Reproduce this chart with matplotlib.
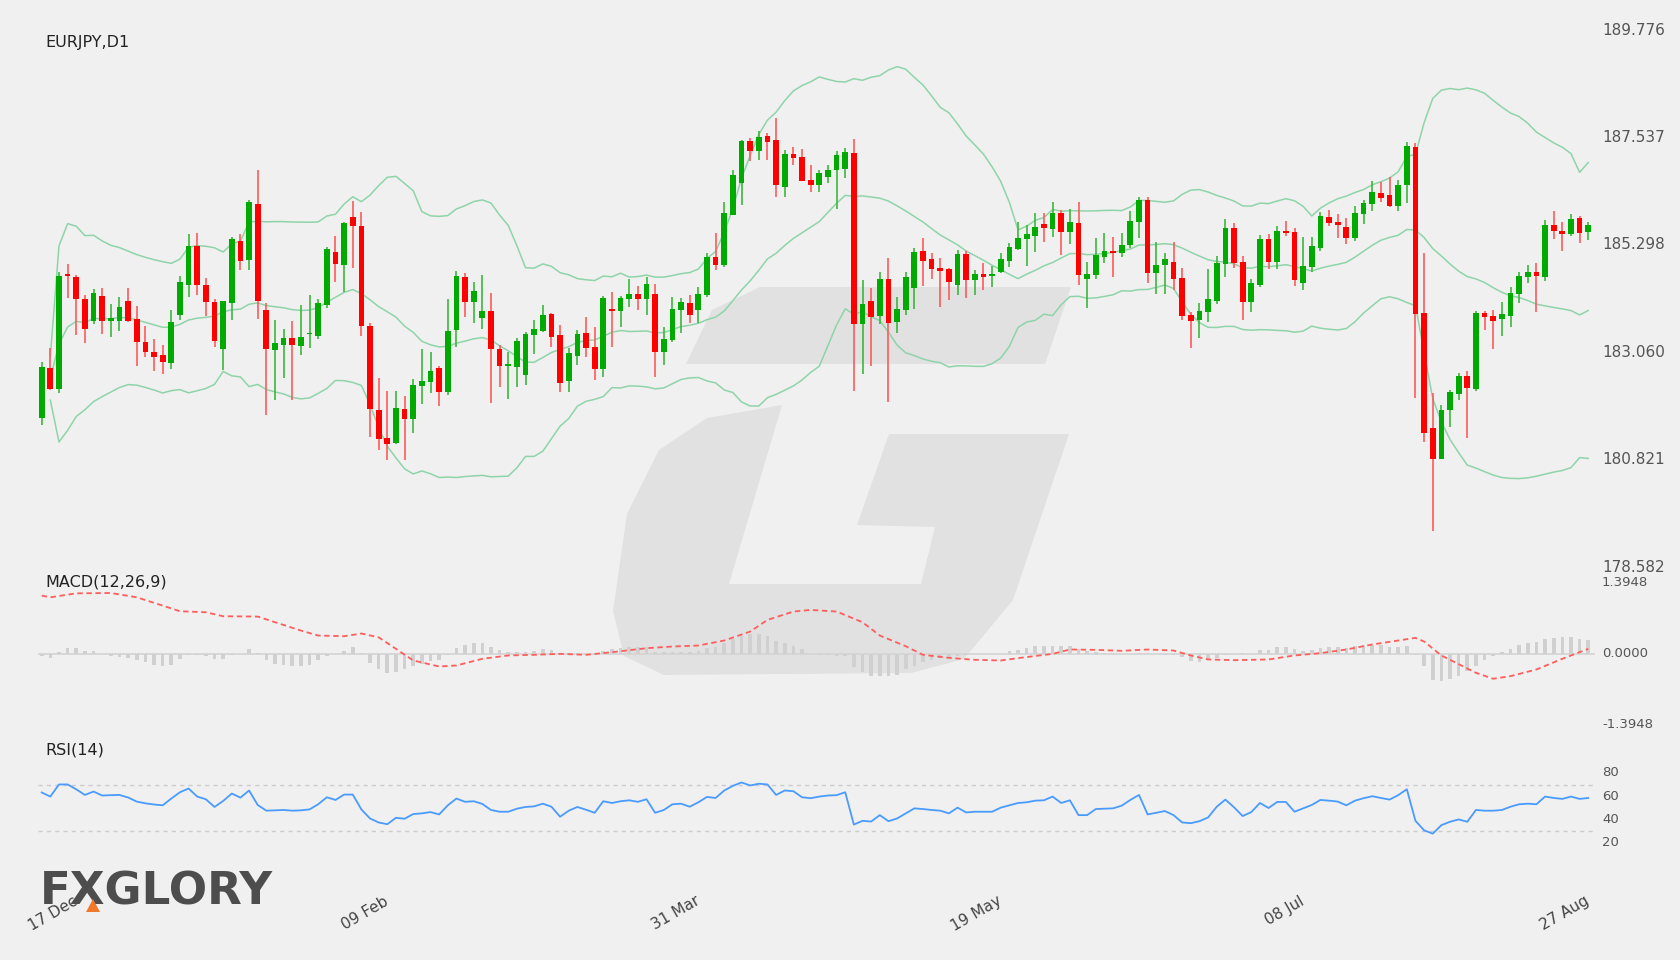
import numpy as np
import pandas as pd
import matplotlib
matplotlib.use("Agg")
import matplotlib.pyplot as plt
from matplotlib.patches import Polygon
from matplotlib.transforms import blended_transform_factory

# ---------------- data ----------------
ohlc = [
(181.68,182.75,182.85,181.54),(182.73,182.29,183.14,182.27),(182.29,184.65,184.73,182.21),(184.69,184.65,184.90,184.19),
(184.62,184.17,184.67,183.42),(184.17,183.54,184.25,183.25),(183.71,184.29,184.37,183.65),(184.23,183.71,184.40,183.44),
(183.71,183.77,184.06,183.37),(183.71,184.00,184.21,183.50),(184.12,183.71,184.40,183.69),(183.75,183.27,184.02,182.77),
(183.27,183.06,183.61,182.96),(183.06,182.96,183.33,182.66),(183.00,182.85,183.21,182.60),(182.83,183.69,183.94,182.71),
(183.83,184.52,184.65,183.73),(184.46,185.27,185.52,184.21),(185.27,184.46,185.54,184.25),(184.46,184.10,184.60,183.81),
(184.10,183.29,184.17,183.17),(183.12,184.12,184.12,182.69),(184.08,185.42,185.46,183.73),(185.38,184.96,185.52,184.77),
(184.98,186.19,186.23,184.77),(186.15,184.12,186.86,183.75),(183.94,183.12,184.08,181.75),(183.10,183.25,183.73,182.06),
(183.21,183.35,183.54,182.52),(183.35,183.21,183.71,182.06),(183.19,183.37,184.04,183.00),(183.43,183.44,184.25,183.14),
(183.40,184.08,184.17,183.33),(184.04,185.21,185.25,183.98),(185.15,184.90,185.48,184.52),(184.87,185.75,185.77,184.31),
(185.88,185.69,186.21,184.81),(185.69,183.61,185.98,183.40),(183.61,181.87,183.67,181.29),(181.85,181.25,182.52,181.02),
(181.27,181.14,182.25,180.81),(181.16,181.89,182.25,181.14),(181.87,181.66,182.14,180.81),(181.66,182.37,182.50,181.37),
(182.35,182.46,183.12,181.98),(182.44,182.66,183.06,182.21),(182.73,182.23,182.77,181.93),(182.23,183.50,184.17,182.16),
(183.52,184.65,184.75,183.17),(184.62,184.10,184.71,183.79),(184.10,184.33,184.52,183.67),(183.77,183.92,184.67,183.54),
(183.92,183.12,184.29,182.00),(183.12,182.77,183.21,182.33),(182.77,182.81,183.06,182.08),(182.75,183.29,183.35,182.33),
(182.58,183.44,183.48,182.37),(183.42,183.54,183.73,183.02),(183.50,183.83,184.04,183.48),(183.85,183.37,183.87,183.17),
(183.42,182.41,183.63,182.23),(182.46,183.04,183.14,182.23),(182.98,183.44,183.52,182.79),(183.46,183.14,183.79,182.96),
(183.17,182.71,183.59,182.48),(182.71,184.19,184.23,182.54),(183.96,183.92,184.31,183.17),(183.92,184.19,184.23,183.59),
(184.17,184.27,184.58,184.00),(184.27,184.17,184.44,183.94),(184.17,184.48,184.62,183.83),(184.27,183.06,184.48,182.54),
(183.06,183.33,183.59,182.79),(183.31,183.96,184.21,183.27),(183.94,184.10,184.19,183.46),(184.08,183.83,184.25,183.67),
(183.94,184.27,184.42,183.67),(184.25,185.04,185.13,184.21),(185.04,184.87,185.54,184.77),(184.87,185.96,186.19,184.83),
(185.92,186.75,186.86,185.92),(186.58,187.46,187.48,186.13),(187.46,187.25,187.52,187.04),(187.25,187.54,187.67,187.06),
(187.56,187.44,187.63,187.06),(187.48,186.54,187.94,186.29),(186.50,187.19,187.27,186.29),(187.19,187.11,187.34,186.96),
(187.13,186.63,187.29,186.63),(186.65,186.54,186.96,186.40),(186.54,186.79,186.86,186.40),(186.71,186.86,186.96,186.58),
(186.86,187.17,187.25,186.04),(186.88,187.23,187.31,186.70),(187.21,183.65,187.50,182.25),(183.65,184.06,184.56,182.60),
(184.12,183.79,184.40,182.77),(183.81,184.58,184.73,183.65),(184.58,183.67,185.02,182.02),(183.69,183.96,184.21,183.46),
(183.94,184.62,184.73,183.83),(184.40,185.15,185.23,183.96),(185.17,184.96,185.44,184.44),(185.00,184.79,185.13,184.58),
(184.81,184.75,185.02,184.00),(184.79,184.52,184.81,184.15),(184.46,185.11,185.19,184.25),(185.11,184.56,185.17,184.19),
(184.56,184.69,184.77,184.25),(184.69,184.62,184.92,184.35),(184.65,184.69,184.85,184.42),(184.73,185.00,185.13,184.71),
(184.96,185.25,185.34,184.83),(185.21,185.44,185.77,185.19),(185.42,185.52,185.71,184.85),(185.48,185.67,185.96,185.15),
(185.73,185.65,185.96,185.36),(185.63,185.96,186.19,185.46),(185.96,185.56,186.02,185.08),(185.56,185.77,186.04,185.31),
(185.75,184.67,186.19,184.46),(184.58,184.69,184.94,183.98),(184.67,185.08,185.44,184.58),(185.04,185.17,185.54,184.92),
(185.17,185.13,185.46,184.62),(185.13,185.29,185.54,185.04),(185.29,185.79,186.00,185.23),(185.77,186.23,186.29,185.44),
(186.23,184.71,186.29,184.50),(184.71,184.87,185.36,184.27),(184.87,185.00,185.13,184.27),(184.94,184.58,185.36,184.35),
(184.60,183.81,184.81,183.73),(183.83,183.71,183.90,183.14),(183.73,183.92,184.08,183.35),(183.90,184.17,184.79,183.69),
(184.12,184.92,185.06,184.06),(184.90,185.65,185.83,184.62),(185.65,184.92,185.75,184.81),(184.94,184.10,185.06,183.73),
(184.10,184.50,184.58,183.90),(184.46,185.42,185.50,184.42),(185.42,184.94,185.52,184.79),(184.94,185.59,185.69,184.79),
(185.59,185.54,185.79,185.48),(185.56,184.56,185.65,184.44),(184.50,184.85,185.46,184.35),(184.83,185.27,185.46,184.73),
(185.23,185.90,185.98,185.17),(185.88,185.75,186.02,185.69),(185.77,185.71,185.94,185.44),(185.67,185.44,185.86,185.31),
(185.44,185.96,186.10,185.38),(185.94,186.17,186.23,185.73),(186.15,186.40,186.63,186.00),(186.38,186.27,186.61,186.19),
(186.33,186.10,186.71,186.08),(186.10,186.54,186.65,186.00),(186.54,187.36,187.44,186.17),(187.34,183.85,187.42,182.10),
(183.87,181.37,185.13,181.19),(181.48,180.83,182.21,179.33),(180.83,181.85,181.96,180.83),(181.85,182.23,182.27,181.50),
(182.19,182.56,182.62,182.06),(182.56,182.31,182.66,181.27),(182.29,183.87,183.92,182.25),(183.87,183.79,183.92,183.52),
(183.81,183.71,183.94,183.12),(183.75,183.85,184.10,183.40),(183.81,184.29,184.42,183.58),(184.27,184.65,184.73,184.08),
(184.62,184.73,184.87,184.50),(184.73,184.65,184.92,183.90),(184.62,185.71,185.81,184.54),(185.71,185.58,186.00,185.42),
(185.58,185.52,185.77,185.17),(185.52,185.83,185.94,185.48),(185.86,185.54,185.90,185.33),(185.56,185.71,185.77,185.40),
]
opens = [r[0] for r in ohlc]
closes = [r[1] for r in ohlc]
highs = [r[2] for r in ohlc]
lows = [r[3] for r in ohlc]

macd_idx = [0,1,4,8,11,14,16,19,21,25,27,30,32,35,37,39,41,43,46,48,51,54,57,60,63,66,70,73,76,79,82,84,87,89,92,95,97,100,102,105,108,111,113,117,119,122,125,128,131,133,135,138,142,145,148,151,154,157,159,160,162,166,168,170,173,176,179]
macd_val = [1.145,1.112,1.19,1.197,1.112,0.948,0.836,0.816,0.737,0.731,0.619,0.454,0.355,0.342,0.395,0.32,0.092,-0.138,-0.257,-0.237,-0.105,-0.039,-0.026,-0.007,-0.026,0.026,0.105,0.138,0.158,0.257,0.434,0.665,0.83,0.862,0.83,0.619,0.355,0.145,-0.026,-0.086,-0.125,-0.138,-0.092,-0.007,0.079,0.072,0.053,0.079,0.059,-0.039,-0.118,-0.132,-0.118,-0.039,0.007,0.079,0.178,0.257,0.309,0.237,-0.039,-0.382,-0.5,-0.448,-0.316,-0.105,0.092]

hist = [-0.05,-0.09,0.03,0.1,0.1,0.05,0.04,0.0,-0.04,-0.06,-0.09,-0.13,-0.17,-0.22,-0.24,-0.22,-0.1,-0.03,-0.03,-0.05,
-0.1,-0.1,-0.03,0.0,0.08,0.01,-0.12,-0.2,-0.23,-0.24,-0.24,-0.22,-0.12,-0.04,0.0,0.05,0.12,0.01,-0.18,-0.3,
-0.38,-0.37,-0.3,-0.25,-0.2,-0.14,-0.12,-0.03,0.1,0.17,0.2,0.2,0.13,0.06,0.03,0.03,0.03,0.04,0.09,0.07,
0.0,0.0,0.0,0.0,0.0,0.05,0.08,0.1,0.12,0.12,0.12,0.03,0.02,0.02,0.02,0.03,0.04,0.1,0.13,0.2,
0.28,0.35,0.38,0.38,0.35,0.25,0.2,0.14,0.08,0.0,-0.03,-0.03,-0.04,-0.05,-0.27,-0.37,-0.45,-0.45,-0.45,-0.42,
-0.3,-0.24,-0.17,-0.12,-0.09,-0.07,-0.05,-0.03,-0.01,0.0,0.0,0.0,0.04,0.07,0.11,0.14,0.14,0.15,0.14,0.14,
0.09,0.04,0.02,0.01,0.01,0.0,-0.01,0.01,0.01,-0.01,-0.02,-0.03,-0.06,-0.14,-0.16,-0.12,-0.09,-0.02,0.0,0.01,
0.0,0.06,0.06,0.12,0.13,0.08,0.05,0.06,0.1,0.12,0.12,0.11,0.14,0.17,0.17,0.16,0.13,0.13,0.14,-0.02,
-0.24,-0.53,-0.55,-0.5,-0.45,-0.34,-0.24,-0.12,-0.05,0.03,0.09,0.16,0.2,0.22,0.29,0.31,0.32,0.32,0.29,0.26]

rsi = [63.3,59.8,70.2,70.2,66.0,61.2,64.1,60.7,61.0,61.2,59.0,55.5,54.0,53.0,52.3,58.1,63.5,66.7,59.8,57.5,
50.9,56.0,62.4,58.9,65.0,52.6,47.7,48.0,48.3,47.7,48.0,48.8,53.2,59.2,56.9,61.5,61.5,48.8,41.0,37.6,
36.1,41.6,40.8,44.8,45.4,46.5,44.5,52.3,58.1,55.3,55.8,53.5,48.3,46.8,46.8,49.4,50.9,51.4,53.7,51.1,
42.5,47.7,50.9,48.5,45.9,55.8,54.3,55.8,56.6,55.3,57.5,45.9,48.3,53.2,53.7,51.1,54.9,59.5,58.6,65.0,
69.0,71.9,69.3,70.8,70.2,61.2,65.0,64.4,59.2,58.4,59.8,60.7,61.0,63.5,35.8,39.0,38.4,43.9,38.7,41.0,
45.4,49.7,49.1,48.3,47.7,45.4,50.3,46.2,46.8,46.8,46.8,50.3,52.3,54.3,54.9,56.3,56.6,59.8,54.3,56.6,
43.9,43.9,49.1,49.4,49.7,52.0,56.9,61.2,44.5,45.9,47.4,43.9,37.6,37.0,38.7,41.9,51.1,57.2,50.6,43.1,
46.5,54.3,50.0,55.2,55.2,46.8,49.7,52.6,56.9,56.3,55.5,52.3,56.3,58.4,60.1,58.6,57.2,61.0,66.1,39.0,
30.9,28.0,35.3,38.2,40.2,38.2,48.3,47.7,47.7,48.3,51.1,53.2,53.7,53.2,59.8,58.6,57.8,59.8,57.8,58.6]

date_idx = [4, 40, 76, 111, 146, 179]
date_labels = ["17 Dec", "09 Feb", "31 Mar", "19 May", "08 Jul", "27 Aug"]
price_ticks = ["189.776", "187.537", "185.298", "183.060", "180.821", "178.582"]

# ---------------- figure ----------------
W, H = 1680, 960
BG = "#f0f0f0"
fig = plt.figure(figsize=(W/100, H/100), dpi=100, facecolor=BG)

def fy(y):
    return 1 - y / H

axbg = fig.add_axes([0, 0, 1, 1], zorder=0)
axbg.set_xlim(0, W); axbg.set_ylim(H, 0); axbg.axis("off")
wm = "#e1e1e1"
axbg.add_patch(Polygon([(686,364),(712,310),(760,287),(1071,287),(1045,364)], closed=True, fc=wm, ec="none"))
axbg.add_patch(Polygon([(782,405),(729,584),(921,584),(935,527),(857,525),(889,434),(1069,434),(1013,600),
                        (964,659),(911,673),(664,675),(624,656),(613,611),(627,514),(659,450),(707,418)],
                       closed=True, fc=wm, ec="none"))

x0, x1 = 38, 1595
idx = np.arange(len(closes))
xl = (-(41.7 - x0) / 8.64, (x1 - 41.7) / 8.64)

def mk(top, bot):
    ax = fig.add_axes([x0 / W, fy(bot), (x1 - x0) / W, (bot - top) / H], zorder=1)
    ax.set_facecolor("none")
    ax.set_xlim(*xl)
    for s in ax.spines.values():
        s.set_visible(False)
    ax.set_xticks([]); ax.set_yticks([])
    return ax

# ---- price ----
ax = mk(30, 567)
ax.set_ylim(178.582, 189.776)
o = np.array(opens); c = np.array(closes); h = np.array(highs); l = np.array(lows)
up = c >= o
cs = pd.Series(c)
mid = cs.rolling(20, min_periods=2).mean()
sd = cs.rolling(20, min_periods=2).std(ddof=0)
bc = "#8fd4a8"
for s in (mid, mid + 2 * sd, mid - 2 * sd):
    ax.plot(idx, s, color=bc, lw=1.1, zorder=2)
wick_col = np.where(up, "#3cb83c", "#ff5a5a")
ax.vlines(idx, l, h, colors=wick_col, lw=1.2, zorder=3)
body_b = np.minimum(o, c)
body_h = np.maximum(np.abs(c - o), 0.04)
ax.bar(idx, body_h, bottom=body_b, width=0.66, color=np.where(up, "#00aa00", "#ff0000"), zorder=4)
fig.text(45 / W, fy(43), "EURJPY,D1", fontsize=11.5, color="#222222", va="center", ha="left", zorder=5)

tick_vals = [float(t) for t in price_ticks]
for t, v in zip(price_ticks, tick_vals):
    yy = ax.transData.transform((0, v))[1]
    fig.text(1602 / W, yy / H, t, fontsize=11, color="#555555", va="center", ha="left")

# ---- MACD ----
axm = mk(583, 724)
axm.set_ylim(-1.3948, 1.3948)
axm.axhline(0, color="#d4d4d4", lw=1.2, zorder=1)
axm.bar(idx, hist, width=0.42, color="#d0d0d0", zorder=2)
axm.plot(macd_idx, macd_val, color="#ff5c5c", lw=1.3, ls=(0, (3, 2)), zorder=3)
fig.text(45 / W, fy(582), "MACD(12,26,9)", fontsize=11.5, color="#222222", va="center", ha="left")
for t, v in (("1.3948", 1.3948), ("0.0000", 0.0), ("-1.3948", -1.3948)):
    yy = axm.transData.transform((0, v))[1]
    fig.text(1602 / W, yy / H, t, fontsize=9.5, color="#555555", va="center", ha="left")

# ---- RSI ----
axr = mk(773, 843)
axr.set_ylim(20, 80)
for lv in (70, 30):
    axr.axhline(lv, color="#cccccc", lw=1, ls=(0, (3, 3)))
axr.plot(idx, rsi, color="#4a9bff", lw=1.3)
fig.text(45 / W, fy(750), "RSI(14)", fontsize=11.5, color="#222222", va="center", ha="left")
for v in (80, 60, 40, 20):
    yy = axr.transData.transform((0, v))[1]
    fig.text(1602 / W, yy / H, str(v), fontsize=9.5, color="#555555", va="center", ha="left")

# ---- date labels ----
tr = blended_transform_factory(axr.transData, fig.transFigure)
for i, lab in zip(date_idx, date_labels):
    axr.text(i, fy(900), lab, transform=tr, rotation=30, rotation_mode="anchor",
             ha="right", va="center", fontsize=11, color="#444444", clip_on=False, zorder=6)

# ---- logo ----
fig.text(40 / W, fy(892), "FXGLORY", fontsize=32.5, fontweight="bold", color="#4d4d4d",
         va="center", ha="left", family="DejaVu Sans", zorder=4)
tri = Polygon([(86 / W, fy(912)), (93 / W, fy(899)), (100 / W, fy(912))], closed=True,
              fc="#f07a2a", ec="none", transform=fig.transFigure, zorder=7)
fig.add_artist(tri)

fig.savefig("out.png", dpi=100, facecolor=BG)
